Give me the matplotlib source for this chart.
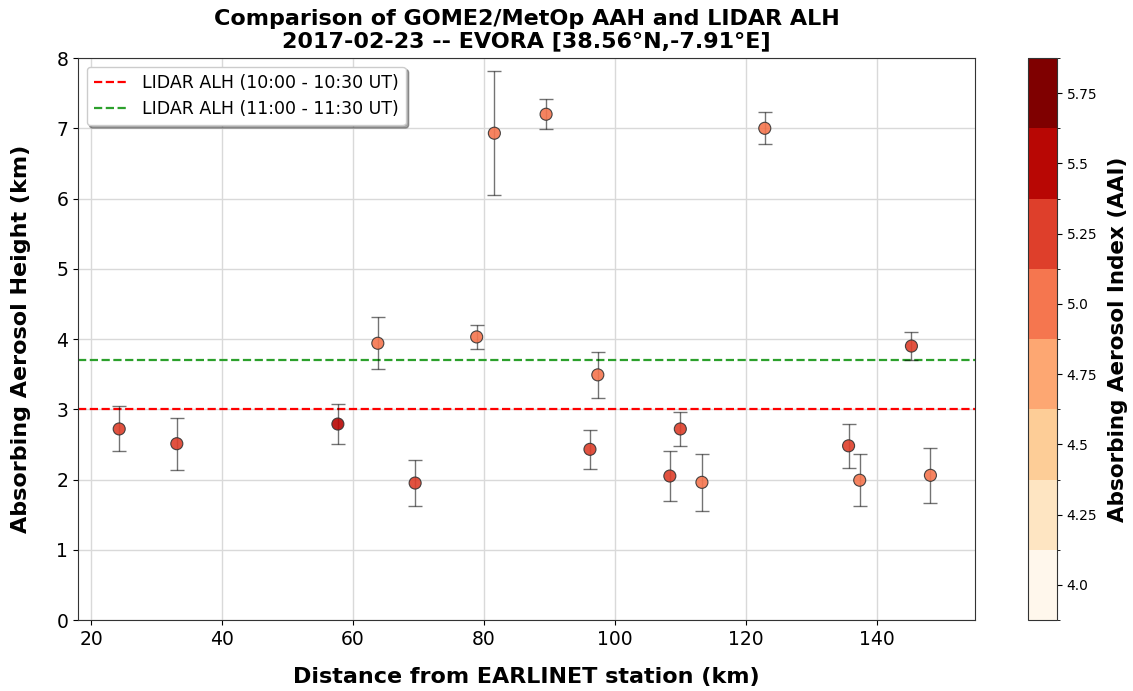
import numpy as np
import matplotlib
matplotlib.use("Agg")
import matplotlib.pyplot as plt
from matplotlib.colors import BoundaryNorm
from matplotlib.cm import ScalarMappable

# GOME2 pixels: distance to station, AAH, its uncertainty and the AAI
mesafe = [24.3, 33.1, 57.7, 63.8, 69.5, 78.9, 81.6, 89.5, 96.2, 97.4,
          108.4, 110.0, 113.3, 122.9, 135.7, 137.4, 145.3, 148.2]
aah = [2.72, 2.51, 2.79, 3.94, 1.95, 4.03, 6.93, 7.20, 2.43, 3.49,
       2.05, 2.72, 1.96, 7.00, 2.48, 1.99, 3.90, 2.06]
aah_hata = [0.32, 0.37, 0.28, 0.37, 0.33, 0.17, 0.88, 0.21, 0.28, 0.33,
            0.35, 0.24, 0.41, 0.23, 0.31, 0.37, 0.20, 0.39]
aai = [5.25, 5.25, 5.5, 5.0, 5.25, 5.0, 5.0, 5.0, 5.25, 5.0,
       5.25, 5.25, 5.0, 5.0, 5.25, 5.0, 5.25, 5.0]

# LIDAR aerosol layer heights
lidar_1000 = 3.0
lidar_1100 = 3.7

sinirlar = np.arange(3.875, 5.876, 0.25)
renk_tikleri = [4.0, 4.25, 4.5, 4.75, 5.0, 5.25, 5.5, 5.75]

cmap = plt.get_cmap("OrRd", len(sinirlar) - 1)
norm = BoundaryNorm(sinirlar, cmap.N)

fig = plt.figure(figsize=(11.33, 6.91), dpi=100)
ax = fig.add_axes([0.0688, 0.1027, 0.7917, 0.8133])
cax = fig.add_axes([0.9073, 0.1027, 0.0256, 0.8133])

ax.grid(True, color="#d9d9d9", linewidth=1, zorder=0)
ax.set_axisbelow(True)

ax.errorbar(mesafe, aah, yerr=aah_hata, fmt="none", ecolor="black",
            elinewidth=1, capsize=5, alpha=0.55, zorder=2)
ax.scatter(mesafe, aah, c=aai, cmap=cmap, norm=norm, s=75,
           edgecolors="#333333", linewidths=0.8, alpha=0.9, zorder=3)

ax.axhline(lidar_1000, color="red", linestyle="--", linewidth=1.6,
           label="LIDAR ALH (10:00 - 10:30 UT)", zorder=1)
ax.axhline(lidar_1100, color="#2ca02c", linestyle="--", linewidth=1.6,
           label="LIDAR ALH (11:00 - 11:30 UT)", zorder=1)

ax.set_xlim(18, 155)
ax.set_ylim(0, 8)
ax.set_xticks([20, 40, 60, 80, 100, 120, 140])
ax.tick_params(labelsize=13.5)
for s in ax.spines.values():
    s.set_color("#333333")

ax.set_xlabel("Distance from EARLINET station (km)", fontsize=16,
              fontweight="bold", labelpad=13)
ax.set_ylabel("Absorbing Aerosol Height (km)", fontsize=16,
              fontweight="bold", labelpad=18)
ax.set_title("Comparison of GOME2/MetOp AAH and LIDAR ALH\n"
             "2017-02-23 -- EVORA [38.56°N,-7.91°E]",
             fontsize=16, fontweight="bold", pad=8, linespacing=1.1)

ax.legend(loc="upper left", fontsize=12.5, shadow=True, fancybox=True,
          framealpha=1, handlelength=2.0)

sm = ScalarMappable(norm=norm, cmap=cmap)
cb = fig.colorbar(sm, cax=cax, boundaries=sinirlar, ticks=renk_tikleri)
cb.ax.set_yticklabels([str(t) for t in renk_tikleri])
cb.ax.tick_params(labelsize=10)
cb.set_label("Absorbing Aerosol Index (AAI)", fontsize=15.5,
             fontweight="bold", labelpad=8)
cb.outline.set_edgecolor("#333333")

fig.savefig("out.png", dpi=100)
